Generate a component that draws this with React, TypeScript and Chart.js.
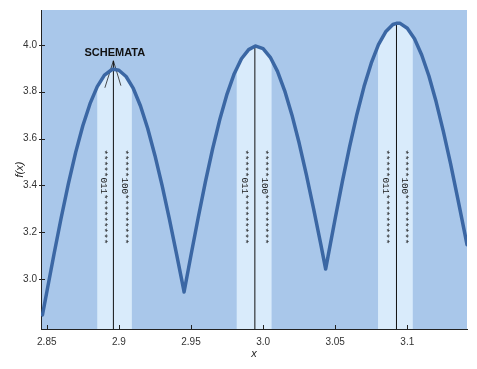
import React, { useEffect, useRef } from 'react';
import { Chart, registerables } from 'chart.js';

Chart.register(...registerables);

// ---- data ----
const curveX = [
  2.847, 2.85, 2.855, 2.86, 2.865, 2.87, 2.875, 2.88, 2.885, 2.89, 2.895, 2.8962, 2.9, 2.905, 2.91, 2.915,
  2.92, 2.925, 2.93, 2.935, 2.94, 2.945, 2.9452,
  2.95, 2.955, 2.96, 2.965, 2.97, 2.975, 2.98, 2.985, 2.99, 2.9943, 2.995, 3.0, 3.005, 3.01, 3.015,
  3.02, 3.025, 3.03, 3.035, 3.04, 3.0434,
  3.045, 3.05, 3.055, 3.06, 3.065, 3.07, 3.075, 3.08, 3.085, 3.09, 3.0925, 3.095, 3.1, 3.105, 3.11,
  3.115, 3.12, 3.125, 3.13, 3.135, 3.14, 3.1414,
];
const curveY = [
  2.847, 2.944, 3.106, 3.262, 3.408, 3.54, 3.655, 3.749, 3.822, 3.871, 3.894, 3.896, 3.892, 3.865, 3.814, 3.739,
  3.643, 3.528, 3.399, 3.257, 3.107, 2.953, 2.945,
  3.102, 3.262, 3.415, 3.556, 3.682, 3.79, 3.877, 3.941, 3.98, 3.994, 3.995, 3.984, 3.947, 3.887, 3.804,
  3.701, 3.581, 3.446, 3.301, 3.149, 3.043,
  3.096, 3.259, 3.417, 3.566, 3.702, 3.822, 3.922, 4.001, 4.056, 4.087, 4.092, 4.092, 4.071, 4.026, 3.957,
  3.867, 3.757, 3.631, 3.493, 3.344, 3.191, 3.147,
];

const xTicks = [2.85, 2.9, 2.95, 3.0, 3.05, 3.1];
const xTickLabels = ['2.85', '2.9', '2.95', '3.0', '3.05', '3.1'];
const yTicks = [3.0, 3.2, 3.4, 3.6, 3.8, 4.0];
const yTickLabels = ['3.0', '3.2', '3.4', '3.6', '3.8', '4.0'];

const bandStart = [2.885, 2.9817, 3.0797];
const bandEnd = [2.909, 3.0059, 3.1038];
const schemaLineX = [2.8962, 2.9943, 3.0925];
const schemaLineTop = [3.932, 3.994, 4.09];
const leftSchema = '*****011*********';
const rightSchema = '*****100*********';
const leftLabelX = [2.889, 2.987, 3.085];
const rightLabelX = [2.904, 3.001, 3.098];
const labelY = 3.351;
const arrowX = [2.8903, 2.8962, 2.9014];
const arrowY = [3.817, 3.932, 3.826];
const calloutText = 'SCHEMATA';
const calloutX = 2.8972;
const calloutY = 3.966;

const X_MIN = 2.846;
const X_MAX = 3.1414;
const Y_MIN = 2.787;
const Y_MAX = 4.149;

const PLOT_BG = '#a9c7ea';
const BAND = '#d9ebfb';
const CURVE = '#3b67a4';

const decorPlugin = {
  id: 'decor',
  beforeDraw(chart: any) {
    const { ctx, chartArea: a } = chart;
    ctx.save();
    ctx.fillStyle = '#ffffff';
    ctx.fillRect(0, 0, chart.width, chart.height);
    ctx.fillStyle = PLOT_BG;
    ctx.fillRect(a.left, a.top, a.right - a.left, a.bottom - a.top);
    ctx.restore();
  },
  beforeDatasetsDraw(chart: any) {
    const { ctx, chartArea: a } = chart;
    const xs = chart.scales.x;
    const pts = chart.getDatasetMeta(0).data;
    ctx.save();
    ctx.beginPath();
    ctx.rect(a.left, a.top, a.right - a.left, a.bottom - a.top);
    ctx.clip();
    ctx.beginPath();
    ctx.moveTo(pts[0].x, a.bottom);
    pts.forEach((p: any) => ctx.lineTo(p.x, p.y));
    ctx.lineTo(pts[pts.length - 1].x, a.bottom);
    ctx.closePath();
    ctx.clip();
    ctx.fillStyle = BAND;
    bandStart.forEach((s, i) => {
      const x0 = xs.getPixelForValue(s);
      const x1 = xs.getPixelForValue(bandEnd[i]);
      ctx.fillRect(x0, a.top, x1 - x0, a.bottom - a.top);
    });
    ctx.restore();
  },
  afterDatasetsDraw(chart: any) {
    const { ctx, chartArea: a } = chart;
    const xs = chart.scales.x;
    const ys = chart.scales.y;
    ctx.save();
    // schema labels
    ctx.fillStyle = '#1a1a1a';
    ctx.font = '9.3px "Liberation Mono"';
    ctx.textAlign = 'center';
    ctx.textBaseline = 'middle';
    const drawRot = (txt: string, xv: number) => {
      ctx.save();
      ctx.translate(xs.getPixelForValue(xv), ys.getPixelForValue(labelY));
      ctx.rotate(Math.PI / 2);
      ctx.fillText(txt, 0, 0);
      ctx.restore();
    };
    leftLabelX.forEach((xv) => drawRot(leftSchema, xv));
    rightLabelX.forEach((xv) => drawRot(rightSchema, xv));
    // callout
    ctx.fillStyle = '#111';
    ctx.font = 'bold 11px "Liberation Sans"';
    ctx.fillText(calloutText, xs.getPixelForValue(calloutX), ys.getPixelForValue(calloutY));
    // tick marks (inside)
    ctx.strokeStyle = '#222';
    ctx.lineWidth = 1;
    ctx.beginPath();
    xTicks.forEach((v) => {
      const px = Math.round(xs.getPixelForValue(v)) + 0.5;
      ctx.moveTo(px, a.bottom);
      ctx.lineTo(px, a.bottom - 4);
    });
    yTicks.forEach((v) => {
      const py = Math.round(ys.getPixelForValue(v)) + 0.5;
      ctx.moveTo(a.left - 2, py);
      ctx.lineTo(a.left + 4, py);
    });
    ctx.stroke();
    // axis titles
    ctx.fillStyle = '#222';
    ctx.font = 'italic 11px "Liberation Sans"';
    ctx.fillText('x', (a.left + a.right) / 2, a.bottom + 25);
    ctx.save();
    ctx.translate(20, (a.top + a.bottom) / 2);
    ctx.rotate(-Math.PI / 2);
    ctx.fillText('f(x)', 0, 0);
    ctx.restore();
    ctx.restore();
  },
};

export default function App() {
  const ref = useRef<HTMLCanvasElement | null>(null);
  useEffect(() => {
    if (!ref.current) return;
    const datasets: any[] = [
      {
        data: curveX.map((x, i) => ({ x, y: curveY[i] })),
        borderColor: CURVE,
        borderWidth: 3.5,
        pointRadius: 0,
        tension: 0,
        borderJoinStyle: 'round',
        borderCapStyle: 'round',
      },
    ];
    schemaLineX.forEach((x, i) => {
      datasets.push({
        data: [
          { x, y: Y_MIN },
          { x, y: schemaLineTop[i] },
        ],
        borderColor: '#111',
        borderWidth: 1,
        pointRadius: 0,
      });
    });
    datasets.push({
      data: arrowX.map((x, i) => ({ x, y: arrowY[i] })),
      borderColor: '#222',
      borderWidth: 0.8,
      pointRadius: 0,
    });
    const chart = new Chart(ref.current, {
      type: 'line',
      data: { datasets },
      options: {
        animation: false,
        responsive: false,
        layout: { padding: { top: 7, right: 10, left: 0, bottom: 0 } },
        plugins: { legend: { display: false }, tooltip: { enabled: false } },
        scales: {
          x: {
            type: 'linear',
            min: X_MIN,
            max: X_MAX,
            grid: { display: false, drawTicks: false },
            border: { display: true, color: '#222', width: 1 },
            afterBuildTicks: (s: any) => {
              s.ticks = xTicks.map((v) => ({ value: v }));
            },
            afterFit: (s: any) => {
              s.height = 40;
            },
            ticks: {
              autoSkip: false,
              maxRotation: 0,
              padding: 7,
              color: '#333',
              font: { family: 'Liberation Sans', size: 10 },
              callback: (_v: any, i: number) => xTickLabels[i],
            },
          },
          y: {
            type: 'linear',
            min: Y_MIN,
            max: Y_MAX,
            grid: { display: false, drawTicks: false },
            border: { display: true, color: '#222', width: 1 },
            afterBuildTicks: (s: any) => {
              s.ticks = yTicks.map((v) => ({ value: v }));
            },
            afterFit: (s: any) => {
              s.width = 41;
            },
            ticks: {
              autoSkip: false,
              padding: 4,
              color: '#333',
              font: { family: 'Liberation Sans', size: 10 },
              callback: (_v: any, i: number) => yTickLabels[i],
            },
          },
        },
      },
      plugins: [decorPlugin],
    });
    return () => chart.destroy();
  }, []);
  return (
    <div style={{ position: 'fixed', left: 0, top: 0, width: 477, height: 369 }}>
      <canvas ref={ref} width={477} height={369} style={{ display: 'block' }} />
    </div>
  );
}
